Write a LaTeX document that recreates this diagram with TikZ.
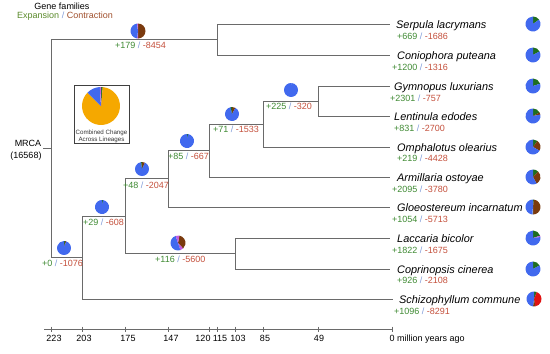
\documentclass[tikz,border=0pt]{standalone}
\usepackage{fontspec}
\setmainfont{Liberation Sans}
\definecolor{linec}{HTML}{6A6A6A}
\definecolor{expg}{HTML}{3F8A33}
\definecolor{conr}{HTML}{C4503C}
\definecolor{slc}{HTML}{7E9AD8}
\definecolor{hdrg}{HTML}{5A8A2A}
\definecolor{hdrr}{HTML}{A0502D}
\definecolor{pblue}{HTML}{4169EE}
\definecolor{pgreen}{HTML}{1F6E1F}
\definecolor{pbrown}{HTML}{7A3A0E}
\definecolor{pmag}{HTML}{C45CE0}
\definecolor{pred}{HTML}{E01212}
\definecolor{porange}{HTML}{F5A800}
\newcommand\mypie[3]{\foreach \pa/\pb/\pc in {#3}{\fill[\pc] (#1) -- ++({90-360*\pa}:#2) arc[start angle={90-360*\pa}, end angle={90-360*\pb}, radius=#2] -- cycle;}}
\newcommand\gl[2]{\textcolor{expg}{+#1} \textcolor{slc}{/} \textcolor{conr}{-#2}}
\tikzset{
  br/.style={draw=linec, line width=0.8pt},
  num/.style={font=\fontsize{9}{10}\selectfont, inner sep=0pt, anchor=base west},
  spn/.style={font=\fontsize{10.9}{12}\selectfont\itshape, inner sep=0pt, anchor=base west},
  txt/.style={font=\fontsize{9}{10}\selectfont, inner sep=0pt, anchor=base},
  small/.style={font=\fontsize{6.2}{7}\selectfont, inner sep=0pt, anchor=base, text=black!80},
}
\begin{document}
\begin{tikzpicture}[x=1pt,y=-1pt]
\useasboundingbox (0,0) rectangle (550,354);
% leaves
\coordinate (L1) at (390,24);
\coordinate (L2) at (390,55);
\coordinate (L3) at (390,86);
\coordinate (L4) at (390,116);
\coordinate (L5) at (390,147);
\coordinate (L6) at (390,177);
\coordinate (L7) at (390,207);
\coordinate (L8) at (390,238);
\coordinate (L9) at (390,269);
\coordinate (L10) at (393,299);
% internal nodes
\coordinate (N115) at (217,39.5);
\coordinate (N49) at (318,101);
\coordinate (N85) at (263,124);
\coordinate (N120) at (209,150.5);
\coordinate (N147) at (168,178.75);
\coordinate (N103) at (235,253.5);
\coordinate (N175) at (125,216);
\coordinate (N203) at (82,257.5);
\coordinate (MRCA) at (51,148.5);
\coordinate (stub) at (43,148.5);
% branches
\draw[br] (N115) |- (L1);
\draw[br] (N115) |- (L2);
\draw[br] (N49) |- (L3);
\draw[br] (N49) |- (L4);
\draw[br] (N85) |- (N49);
\draw[br] (N85) |- (L5);
\draw[br] (N120) |- (N85);
\draw[br] (N120) |- (L6);
\draw[br] (N147) |- (N120);
\draw[br] (N147) |- (L7);
\draw[br] (N103) |- (L8);
\draw[br] (N103) |- (L9);
\draw[br] (N175) |- (N147);
\draw[br] (N175) |- (N103);
\draw[br] (N203) |- (N175);
\draw[br] (N203) |- (L10);
\draw[br] (MRCA) |- (N115);
\draw[br] (MRCA) |- (N203);
\draw[br] (stub) -- (MRCA);
% header
\node[txt] (hdr1) at (62,9.2) {Gene families};
\node[txt] (hdr2) at (65,18.2) {\textcolor{hdrg}{Expansion} \textcolor{slc}{/} \textcolor{hdrr}{Contraction}};
% MRCA label
\node[txt] (mrca1) at (28,146.4) {MRCA};
\node[txt] (mrca2) at (26,158.4) {(16568)};
% species names
\node[spn] (s1) at (396,28.3) {Serpula lacrymans};
\node[spn] (s2) at (397,59.3) {Coniophora puteana};
\node[spn] (s3) at (394,90.3) {Gymnopus luxurians};
\node[spn] (s4) at (394,120.3) {Lentinula edodes};
\node[spn] (s5) at (397,151.3) {Omphalotus olearius};
\node[spn] (s6) at (397,181.3) {Armillaria ostoyae};
\node[spn] (s7) at (397,211.3) {Gloeostereum incarnatum};
\node[spn] (s8) at (397,242.3) {Laccaria bicolor};
\node[spn] (s9) at (397,273.3) {Coprinopsis cinerea};
\node[spn] (s10) at (399,303.3) {Schizophyllum commune};
% leaf numbers
\node[num] (n1) at (397,39.2) {\gl{669}{1686}};
\node[num] (n2) at (392,70.2) {\gl{1200}{1316}};
\node[num] (n3) at (390,101) {\gl{2301}{757}};
\node[num] (n4) at (394,131) {\gl{831}{2700}};
\node[num] (n5) at (397,161.5) {\gl{219}{4428}};
\node[num] (n6) at (392,192.2) {\gl{2095}{3780}};
\node[num] (n7) at (392,222.5) {\gl{1054}{5713}};
\node[num] (n8) at (392,253.2) {\gl{1822}{1675}};
\node[num] (n9) at (397,283.2) {\gl{926}{2108}};
\node[num] (n10) at (394,314) {\gl{1096}{8291}};
% internal numbers
\node[num] (i115) at (115,48.2) {\gl{179}{8454}};
\node[num] (i0) at (42,266.2) {\gl{0}{1076}};
\node[num] (i29) at (83,225.2) {\gl{29}{608}};
\node[num] (i48) at (123,188.2) {\gl{48}{2047}};
\node[num] (i116) at (155,262.2) {\gl{116}{5600}};
\node[num] (i85) at (168,159.2) {\gl{85}{667}};
\node[num] (i71) at (213,132.2) {\gl{71}{1533}};
\node[num] (i225) at (266,109.2) {\gl{225}{320}};
% legend
\draw[draw=black!75, line width=0.8pt] (74,85) rectangle (129,143);
\coordinate (legpie) at (101,106);
\mypie{legpie}{19pt}{0/0.015/pgreen, 0.015/0.875/porange, 0.875/0.99/pblue, 0.99/1/pmag}
\node[small] (leg1) at (101.5,134.2) {Combined Change};
\node[small] (leg2) at (101.5,141.2) {Across Lineages};
% internal pies
\coordinate (p115) at (138,31);
\mypie{p115}{7.5pt}{0/0.5/pbrown, 0.5/0.52/pmag, 0.52/0.98/pblue, 0.98/1/pmag}
\coordinate (p0) at (64,248);
\mypie{p0}{7pt}{0/0.03/pgreen, 0.03/0.05/pbrown, 0.05/1/pblue}
\coordinate (p29) at (102,207);
\mypie{p29}{7pt}{0/0.025/pgreen, 0.025/1/pblue}
\coordinate (p48) at (142,169);
\mypie{p48}{7pt}{0/0.07/pbrown, 0.07/0.98/pblue, 0.98/1/pgreen}
\coordinate (p116) at (178,243);
\mypie{p116}{7.5pt}{0.03/0.38/pbrown, 0.38/0.45/pmag, 0.45/0.95/pblue, 0.95/1.03/pmag}
\coordinate (p85) at (187,141);
\mypie{p85}{7pt}{0/0.025/pgreen, 0.025/1/pblue}
\coordinate (p71) at (232,114);
\mypie{p71}{7pt}{0/0.08/pbrown, 0.08/0.97/pblue, 0.97/1/pgreen}
\coordinate (p225) at (291,90);
\mypie{p225}{7pt}{0/0.015/slc, 0.015/1/pblue}
% leaf pies
\coordinate (q1) at (533,24);
\mypie{q1}{7.5pt}{0/0.15/pgreen, 0.15/1/pblue}
\coordinate (q2) at (533,55);
\mypie{q2}{7.5pt}{0/0.17/pgreen, 0.17/1/pblue}
\coordinate (q3) at (533,86);
\mypie{q3}{7.5pt}{0/0.2/pgreen, 0.2/1/pblue}
\coordinate (q4) at (533,116);
\mypie{q4}{7.5pt}{0/0.17/pgreen, 0.17/0.22/pbrown, 0.22/1/pblue}
\coordinate (q5) at (533,147);
\mypie{q5}{7.5pt}{0/0.1/pgreen, 0.1/0.33/pbrown, 0.33/1/pblue}
\coordinate (q6) at (533,177);
\mypie{q6}{7.5pt}{0/0.12/pgreen, 0.12/0.42/pbrown, 0.42/1/pblue}
\coordinate (q7) at (533,207);
\mypie{q7}{7.5pt}{0/0.02/pgreen, 0.02/0.5/pbrown, 0.5/0.52/slc, 0.52/1/pblue}
\coordinate (q8) at (533,238);
\mypie{q8}{7.5pt}{0/0.2/pgreen, 0.2/0.23/pmag, 0.23/1/pblue}
\coordinate (q9) at (533,269);
\mypie{q9}{7.5pt}{0/0.17/pgreen, 0.17/1/pblue}
\coordinate (q10) at (534,299);
\mypie{q10}{7.5pt}{0/0.06/pgreen, 0.06/0.47/pred, 0.47/0.52/pbrown, 0.52/1/pblue}
% axis
\coordinate (ax0) at (44,329);
\coordinate (ax1) at (392,329);
\draw[br] (ax0) -- (ax1);
\foreach \tx/\lx/\lab in {51/54/223, 82/84/203, 125/128/175, 168/171/147, 209/203/120, 217/220/115, 235/238/103, 263/265/85, 318/319/49}{
  \draw[br] (\tx,326.5) -- (\tx,331.5);
  \node[txt] at (\lx,341.2) {\lab};
}
\draw[br] (392,326.5) -- (392,331.5);
\node[num] (axlab) at (389.5,341.2) {0 million years ago};
\end{tikzpicture}
\end{document}
